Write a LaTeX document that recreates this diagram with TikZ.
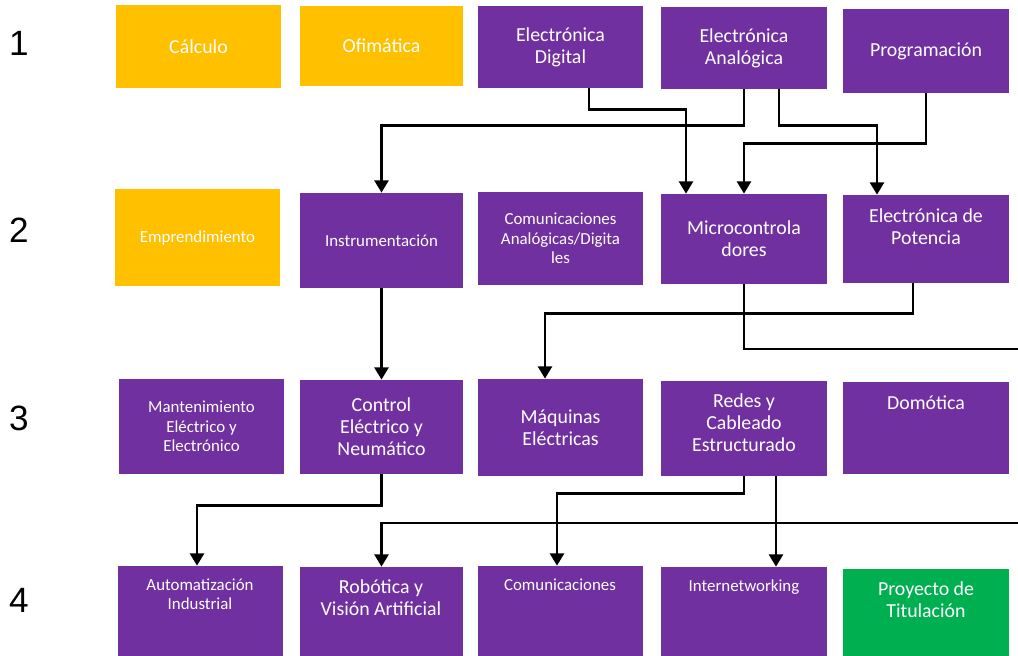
\documentclass[tikz,border=0pt]{standalone}
\usepackage{fontspec}
\setmainfont{Carlito}
\newfontfamily\numfont{Liberation Sans}
\usepackage{xcolor}
\usetikzlibrary{arrows.meta,calc,positioning,fit}
\definecolor{morado}{HTML}{7030A0}
\definecolor{amarillo}{HTML}{FFC000}
\definecolor{verde}{HTML}{00B050}

\begin{document}
\begin{tikzpicture}[
    x=0.02cm, y=-0.02cm,
    nosep/.style={inner sep=0},
    box/.style={nosep, rectangle, draw=none},
    pbox/.style={box, fill=morado},
    ybox/.style={box, fill=amarillo},
    gbox/.style={box, fill=verde},
    big/.style={font=\fontsize{11.3}{12.5}\selectfont},
    small/.style={font=\fontsize{9.6}{11}\selectfont},
    txt/.style={text=white, align=center, inner sep=0},
    rownum/.style={font=\numfont\fontsize{20}{24}\selectfont, inner sep=0},
    conn/.style={draw, line width=1.4pt, -{Triangle[width=8pt,length=7pt]}}]
\useasboundingbox (0,0) rectangle (1018,656);
\clip (0,0) rectangle (1018,656);
\fill[white] (0,0) rectangle (1018,656);

% semestres
\node[rownum] (s1) at (19,43) {1};
\node[rownum] (s2) at (19,230) {2};
\node[rownum] (s3) at (19,418) {3};
\node[rownum] (s4) at (19,600) {4};

% fila 1
\node[ybox, fit={(116,5) (281,88)}] (calculo) {};
\node[txt, big] (calculo-t) at (calculo) {Cálculo};
\node[ybox, fit={(300,6) (463,86)}] (ofimatica) {};
\node[txt, big] (ofimatica-t) at (ofimatica) {Ofimática};
\node[pbox, fit={(478,6) (643,88)}] (elecdig) {};
\node[txt, big] (elecdig-t) at (elecdig) {Electrónica\\Digital};
\node[pbox, fit={(661,7) (827,89)}] (elecana) {};
\node[txt, big] (elecana-t) at (elecana) {Electrónica\\Analógica};
\node[pbox, fit={(843,9) (1009,93)}] (prog) {};
\node[txt, big] (prog-t) at (prog) {Programación};

% fila 2
\node[ybox, fit={(115,189) (280,286)}] (empr) {};
\node[txt, small] (empr-t) at (empr) {Emprendimiento};
\node[pbox, fit={(300,193) (463,288)}] (instr) {};
\node[txt, small] (instr-t) at (instr) {Instrumentación};
\node[pbox, fit={(478,192) (643,285)}] (comad) {};
\node[txt, small] (comad-t) at (comad) {Comunicaciones\\Analógicas/Digita\\les};
\node[pbox, fit={(661,194) (827,284)}] (micro) {};
\node[txt, big] (micro-t) at (micro) {Microcontrola\\dores};
\node[pbox, fit={(843,195) (1009,283)}] (potencia) {};
\node[txt, big] (potencia-t) at (926,227) {Electrónica de\\Potencia};

% fila 3
\node[pbox, fit={(119,379) (284,474)}] (mant) {};
\node[txt, small] (mant-t) at (mant) {Mantenimiento\\Eléctrico y\\Electrónico};
\node[pbox, fit={(300,380) (463,474)}] (control) {};
\node[txt, big] (control-t) at (control) {Control\\Eléctrico y\\Neumático};
\node[pbox, fit={(478,379) (643,476)}] (maquinas) {};
\node[txt, big] (maquinas-t) at (maquinas) {Máquinas\\Eléctricas};
\node[pbox, fit={(661,381) (827,476)}] (redes) {};
\node[txt, big] (redes-t) at (744,423) {Redes y\\Cableado\\Estructurado};
\node[pbox, fit={(843,382) (1009,474)}] (domotica) {};
\node[txt, big] (domotica-t) at (926,403) {Domótica};

% fila 4
\node[pbox, fit={(118,566) (283,656)}] (automat) {};
\node[txt, small] (automat-t) at (200,594) {Automatización\\Industrial};
\node[pbox, fit={(300,567) (463,656)}] (robotica) {};
\node[txt, big] (robotica-t) at (381,598) {Robótica y\\Visión Artificial};
\node[pbox, fit={(478,566) (643,656)}] (comun) {};
\node[txt, small] (comun-t) at (560,585) {Comunicaciones};
\node[pbox, fit={(661,567) (827,656)}] (internet) {};
\node[txt, small] (internet-t) at (744,587) {Internetworking};
\node[gbox, fit={(843,569) (1009,656)}] (proyecto) {};
\node[txt, big] (proyecto-t) at (926,600) {Proyecto de\\Titulación};

% prerrequisitos
\path[conn] (elecana.south) -- ++(0,36) -| (instr.north);
\path[conn] ($(elecdig.south)+(28.5,0)$) -- ++(0,21) -| ($(micro.north)+(-58,0)$);
\path[conn] (prog.south) -- ++(0,50) -| (micro.north);
\path[conn] ($(elecana.south)+(35,0)$) -- ++(0,36) -| ($(potencia.north)+(-49,0)$);
\path[conn] ($(potencia.south)+(-13,0)$) -- ++(0,30) -| ($(maquinas.north)+(-15.5,0)$);
\path[conn] (micro.south) |- (1030,349) -- (1030,523) -| (robotica.north);
\path[conn] (instr) -- (control);
\path[conn] (control.south) -- ++(0,31) -| ($(automat.north)+(-3.5,0)$);
\path[conn] (redes.south) -- ++(0,17) -| ($(comun.north)+(-3.5,0)$);
\path[conn] ($(redes.south)+(32,0)$) -- ($(internet.north)+(32,0)$);

\end{tikzpicture}
\end{document}
